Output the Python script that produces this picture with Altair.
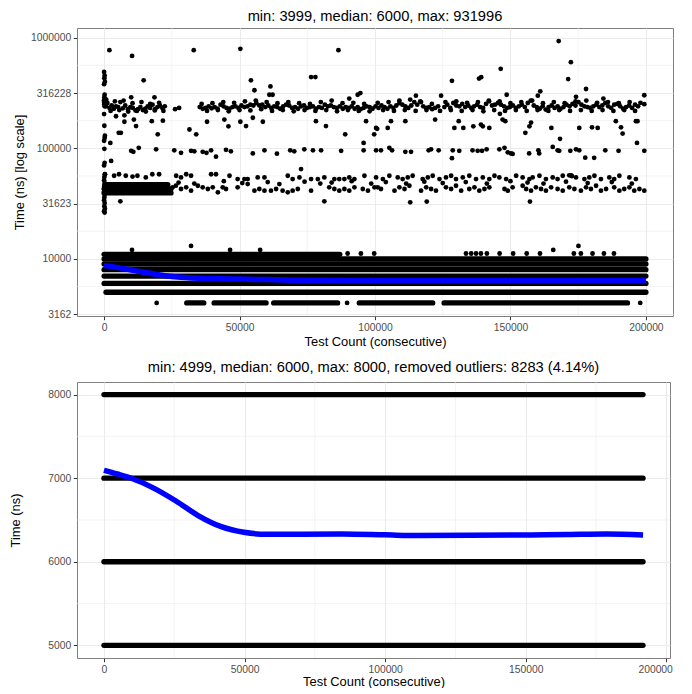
import altair as alt
import pandas as pd

FONT = "Liberation Sans"

top_title = "min: 3999, median: 6000, max: 931996"
bottom_title = "min: 4999, median: 6000, max: 8000, removed outliers: 8283 (4.14%)"
x_title = "Test Count (consecutive)"
top_y_title = "Time (ns) [log scale]"
bottom_y_title = "Time (ns)"

x_ticks = [0, 50000, 100000, 150000, 200000]
x_minor = [25000, 75000, 125000, 175000]
top_y_ticks = [3162, 10000, 31623, 100000, 316228, 1000000]
top_y_minor = [5623, 17783, 56234, 177828, 562341]
bottom_y_ticks = [5000, 6000, 7000, 8000]
bottom_y_minor = [5500, 6500, 7500]

# ---------- top panel: runs of overlapping points (time, first count, last count)
top_run_time = [4000, 4000, 4000, 4000, 4000, 5000, 6000, 7000, 8000, 9000, 10000, 11000,
                39500, 43000, 47000]
top_run_start = [30500, 40600, 62600, 94200, 125500, 700, 0, 0, 0, 0, 0, 0,
                 0, 0, 300]
top_run_end = [36800, 59800, 86200, 121300, 193200, 200000, 200000, 200000, 200000, 200000, 200000, 87000,
               24700, 24700, 23500]

# isolated points near the dense bands
dots_count = [19400, 89700, 197900, 10300, 32100, 46500, 57600, 165800, 175100,
              89900, 94800, 99700, 133600, 135500, 137300, 139100, 141300, 146000, 151000,
              156000, 160900, 173400, 176000, 180300, 184500, 188200]
dots_time = [4000, 4000, 4000, 12050, 13100, 12050, 12050, 12050, 13100,
             11200, 11200, 11200, 11200, 11200, 11200, 11200, 11200, 11200, 11200,
             11200, 11200, 11200, 11200, 11200, 11200, 11200]

# column of slow points right at the start
col_count = [0, 200, 100, 300, 0, 200, 100, 0, 300, 100, 200, 0, 100, 300, 200, 0, 100, 200, 0,
             300, 100, 0, 200, 100, 300, 0, 200, 100, 0, 200, 100, 300, 0, 200]
col_time = [490000, 455000, 430000, 400000, 380000, 305000, 290000, 272000, 262000, 250000,
            240000, 204000, 160000, 130000, 124000, 117000, 99000, 74000, 70000, 58000,
            55000, 51500, 48500, 45500, 43000, 40500, 38000, 36000, 34000, 32000, 30000,
            28500, 27000, 26300]

# cluster around 250000 ns
a_count = [0, 300, 700, 1200, 2000, 2800, 3600, 4400, 5200, 6000, 6900, 7800, 8800, 9700, 10600,
           11600, 12500, 13400, 14300, 15200, 16100, 17000, 17900, 18800, 19700, 20600, 21500,
           22400, 26200, 27700, 35300, 36400, 37500, 38600, 39700, 40800, 41900, 43000, 44100,
           45200, 46300, 47400, 48500, 49600, 50700, 51800, 52900, 54000, 55100, 56200, 57300,
           58400, 59500, 60600, 61700, 62800, 63900, 65000, 66100, 67200, 68300, 69400, 70500,
           71600, 72700, 73800, 74900, 76000, 77100, 78200, 79300, 80400, 81500, 82600, 83700,
           84800, 85900, 87000, 88100, 89200, 90300, 91400, 92500, 93600, 94700, 95800, 96900,
           98000, 99100,
           100200, 101300, 102400, 103500, 104600, 105700, 106800, 107900, 109000, 110100,
           111200, 112300, 113400, 114500, 115600, 116700, 117800, 118900, 120000, 121100,
           122200, 123300, 125600, 126700, 127800, 128900, 130000, 131100, 132200, 133300,
           134400, 135500, 136600, 137700, 138800, 139900, 141000, 142100, 143200, 144300,
           145400, 146500, 147600, 148700, 149800, 150900, 152000, 153100, 154200, 155300,
           156400, 157500, 158600, 159700, 160800, 161900, 163000, 164100, 165200, 166300,
           167400, 168500, 169600, 170700, 171800, 172900, 174000, 175100, 176200, 177300,
           178400, 179500, 180600, 181700, 182800, 183900, 185000, 186100, 187200, 188300,
           189400, 190500, 191600, 192700, 193800, 194900, 196000, 197100]
a_time = [262000, 248000, 240000, 257000, 232000, 245000, 228000, 240000, 236000, 262000,
          230000, 244000, 226000, 236000, 232000, 220000, 226000, 236000, 222000, 228000,
          240000, 232000, 248000, 226000, 236000, 244000, 232000, 240000, 226000, 232000,
          236000, 228000, 232000, 240000, 230000, 236000, 228000, 248000, 240000, 232000,
          228000, 236000, 240000, 232000, 244000, 236000, 240000, 248000, 244000, 257000,
          244000, 248000, 236000, 244000, 232000, 240000, 236000, 228000, 240000, 248000,
          244000, 232000, 236000, 228000, 240000, 244000, 232000, 236000, 240000, 228000,
          236000, 232000, 248000, 240000, 244000, 236000, 232000, 240000, 228000, 236000,
          232000, 240000, 228000, 236000, 226000, 232000, 240000, 236000, 228000,
          240000, 232000, 244000, 236000, 228000, 240000, 232000, 244000, 257000, 248000,
          240000, 232000, 244000, 262000, 248000, 266000, 240000, 232000, 236000, 226000,
          232000, 240000, 236000, 248000, 232000, 257000, 244000, 240000, 252000, 236000,
          244000, 232000, 240000, 248000, 236000, 232000, 252000, 266000, 244000, 248000,
          257000, 248000, 240000, 232000, 236000, 244000, 232000, 240000, 248000, 236000,
          257000, 270000, 244000, 236000, 228000, 240000, 224000, 236000, 244000, 232000,
          240000, 228000, 236000, 248000, 240000, 252000, 244000, 262000, 248000, 240000,
          236000, 232000, 240000, 248000, 236000, 244000, 257000, 240000, 232000, 248000,
          252000, 240000, 228000, 236000, 244000, 232000, 248000, 240000]

# second, looser row of the same cluster
a2_count = [800, 2400, 4000, 5600, 7200, 8900, 10500, 12100, 13800, 15400, 17000, 18700, 20300,
            21900, 36000, 38000, 40000, 42000, 44000, 46000, 48000, 50000, 52000, 54000, 56000,
            58000, 60000, 62000, 64000, 66000, 68000, 70000, 72000, 74000, 76000, 78000, 80000,
            82000, 84000, 86000, 88000, 90000, 92000, 94000, 96000, 98000, 101000, 103000,
            105000, 107000, 109000, 111000, 113000, 115000, 117000, 119000, 121000, 124000,
            126000, 128000, 130000, 132000, 134000, 136000, 138000, 140000, 142000, 144000,
            146000, 148000, 150000, 152000, 154000, 156000, 158000, 160000, 162000, 164000,
            166000, 168000, 170000, 172000, 174000, 176000, 178000, 180000, 182000, 184000,
            186000, 188000, 190000, 192000, 194000, 196000, 198000]
a2_time = [275000, 218000, 266000, 222000, 270000, 215000, 256000, 218000, 262000, 215000,
           252000, 220000, 258000, 218000, 252000, 218000, 256000, 222000, 262000, 216000,
           258000, 222000, 266000, 220000, 270000, 226000, 262000, 218000, 256000, 222000,
           262000, 216000, 256000, 222000, 252000, 218000, 262000, 222000, 270000, 216000,
           256000, 222000, 258000, 218000, 252000, 216000, 258000, 222000, 262000, 218000,
           270000, 222000, 276000, 218000, 262000, 222000, 252000, 218000, 262000, 222000,
           266000, 218000, 258000, 222000, 262000, 216000, 270000, 222000, 266000, 218000,
           256000, 222000, 262000, 218000, 270000, 222000, 256000, 218000, 262000, 222000,
           256000, 218000, 266000, 222000, 270000, 218000, 258000, 222000, 262000, 218000,
           256000, 222000, 262000, 218000, 258000]

# cluster around 50000 ns
c_count = [300, 3700, 5500, 8000, 10500, 12300, 15400, 17800, 20300,
           26600, 28400, 30300, 32100, 39500, 41300, 46300, 49300, 51800, 53000, 56700, 59200,
           67800, 69600, 72100, 76400, 78900, 81300, 85000, 86800, 88700, 90500, 92400, 96100,
           25300, 26500, 28400, 30300, 32100, 34600, 36400, 38300, 40100, 42000, 43800, 45000,
           49300, 53000, 55500, 57300, 59200, 61600, 63500, 65900, 67800, 69600, 71500, 76400,
           83100, 85000, 86800, 88700, 90500, 92400, 95500, 97400, 99800,
           100400, 102900, 105300, 108400, 110200, 112100, 113900, 117600, 119500, 121300,
           123800, 126200, 128100, 129900, 132400, 134800, 137300, 139800, 142200, 144100,
           145900, 148400, 152100, 154500, 157000, 158200, 160700, 163100, 165600, 167400,
           169300, 172400, 174200, 177300, 179100, 181000, 183400, 186500, 188300, 190200,
           193900, 196300,
           101000, 102200, 107200, 109000, 110900, 112700, 117000, 118900, 120700, 122500,
           126200, 128100, 129900, 131800, 134800, 136700, 138500, 140400, 142200, 147800,
           149000, 150800, 154500, 155800, 157600, 159400, 161300, 163100, 165000, 167400,
           169300, 171700, 173600, 176000, 177900, 179700, 181600, 183400, 185300, 188300,
           190200, 192000, 193900, 195700, 197600, 199400,
           27500, 33300, 44200, 51000, 60400, 64700, 74000, 79800, 84000, 91400, 98600,
           104000, 111500, 118200, 125000, 133500, 141300, 150000, 156300, 162200, 170500,
           178500, 187400, 194800]
c_time = [58300, 56500, 58300, 56500, 55500, 56500, 54600, 58300, 58300,
          56500, 54600, 58300, 56500, 58300, 58300, 56500, 52700, 52700, 52700, 54600, 54600,
          56500, 52700, 54600, 52700, 52700, 54600, 52700, 52700, 52700, 54600, 52700, 56500,
          44400, 46000, 42900, 44400, 41400, 45900, 44400, 42900, 44400, 40000, 44400, 42900,
          44400, 47500, 41400, 42900, 41400, 41400, 42900, 41400, 40000, 41400, 42900, 41400,
          44400, 42900, 41400, 42900, 41400, 44400, 42900, 41400, 44400,
          54600, 52700, 56500, 54600, 52700, 54600, 56500, 52700, 54600, 56500,
          52700, 54600, 56500, 52700, 54600, 56500, 52700, 54600, 52700, 56500,
          54600, 52700, 56500, 54600, 52700, 54600, 56500, 52700, 54600, 52700,
          56500, 57000, 54600, 52700, 54600, 56500, 52700, 54600, 52700, 56500,
          54600, 52700,
          44400, 42900, 41400, 44400, 42900, 45900, 41400, 44400, 42900, 41400,
          44400, 42900, 45900, 41400, 42900, 44400, 41400, 42900, 44400, 42900,
          41400, 44400, 45900, 42900, 41400, 44400, 42900, 41400, 44400, 42900,
          41400, 44400, 42900, 41400, 44400, 42900, 45900, 41400, 42900, 44400,
          41400, 42900, 44400, 41400, 42900, 41400,
          49000, 48000, 50500, 48500, 49500, 47500, 50000, 48000, 49000, 50500, 48000,
          49500, 48000, 50000, 48500, 49500, 48000, 50500, 49000, 48000, 50000,
          48500, 49500, 48000]

# scattered points (very slow outliers, ~100000 ns row, in-between values)
s_count = [1960, 10330, 33100, 50300, 86500, 167800, 172300, 171300, 146400, 128400, 138400,
           139200, 177900, 148600, 115100, 124400, 161000, 160100, 174200, 199400, 199400, 184300,
           14600, 54200, 55500, 61400, 61000, 62200, 78000, 76400, 90500, 93600, 94600,
           2300, 2600, 4400, 5400, 6200, 7500, 7500, 10000, 11000, 11800, 10000, 10800, 12800,
           18600, 17600, 19800, 19200, 21700, 25900, 28400, 31500, 34000, 32100, 33300, 36400,
           37800, 39500, 41300, 45000, 46800, 38000, 44400, 45900, 50300, 52400, 54900, 58600,
           54900, 59200, 63800, 68700, 70200, 73900, 77100, 80100, 72700, 78200, 81900, 89000,
           87500, 81300, 6000, 96700, 100800, 99700, 95800, 95800,
           100400, 104700, 105900, 111200, 122200, 129300, 130900, 132600, 136300, 139100,
           139800, 142200, 146100, 147100, 148100, 155500, 157000, 157600, 165100, 168300,
           175400, 180100, 182200, 188900, 190800, 191400, 196300, 196900, 196700,
           100400, 102200, 105300, 106300, 111200, 113300, 119800, 120700, 123500, 128700,
           131100, 128400, 136000, 137900, 139500, 141200, 145900, 147800, 149000, 150200,
           150800, 156900, 160300, 160600, 165600, 167400, 168000, 172100, 174200, 175400,
           177600, 180900, 185000, 189900, 199400,
           113000, 119100, 157200, 171700, 172700]
s_time = [771000, 685000, 771000, 793000, 771000, 931996, 601000, 423000, 524000, 408000, 427000,
          440000, 344000, 305000, 299000, 299000, 328000, 299000, 292000, 302000, 251000, 282000,
          412000, 412000, 335000, 363000, 305000, 305000, 441000, 441000, 282000, 305000, 316000,
          112000, 77000, 195000, 138000, 138000, 199000, 174000, 289000, 182000, 159000, 95000,
          93000, 101000, 289000, 176000, 134000, 98000, 178000, 96000, 91000, 148000, 134000,
          95000, 94000, 93000, 91000, 96000, 84000, 97000, 94000, 174000, 182000, 158000,
          174000, 159000, 189000, 174000, 90000, 96000, 89500, 96000, 94000, 98000, 96000,
          96000, 65000, 176000, 159000, 134000, 95000, 33200, 33200, 176000, 150000, 134000,
          112000, 96000,
          153000, 153000, 176000, 176000, 182000, 153000, 176000, 153000, 158000, 164000,
          158000, 153000, 205000, 182000, 176000, 138000, 158000, 171000, 153000, 122000,
          153000, 155000, 153000, 176000, 155000, 136000, 176000, 176000, 112000,
          96000, 96000, 101000, 96000, 93000, 93000, 96000, 98000, 96000, 96000,
          95000, 81500, 96000, 95000, 95000, 98000, 98000, 101000, 92000, 90000,
          89000, 90000, 96000, 90000, 103000, 96000, 95000, 95000, 98000, 96000,
          82400, 82000, 96000, 95000, 95000,
          32500, 33000, 33000, 57000, 56000]

# loess-like smooth of the full data
top_smooth_count = [0, 5000, 10000, 15000, 20000, 25000, 30000, 35000, 40000, 50000, 60000,
                    70000, 80000, 100000, 120000, 140000, 160000, 180000, 200000]
top_smooth_time = [8700, 8350, 7950, 7550, 7200, 6950, 6800, 6700, 6640, 6570, 6500,
                   6430, 6400, 6390, 6380, 6380, 6380, 6390, 6390]

# ---------- bottom panel
bottom_run_time = [5000, 6000, 7000, 8000]
bottom_run_start = [0, 0, 0, 0]
bottom_run_end = [191717, 191717, 191717, 191717]

bottom_smooth_count = [0, 4700, 9500, 17500, 25600, 33650, 41700, 49800, 57800, 70000, 84700,
                       100000, 111600, 130000, 151900, 165000, 178800, 191717]
bottom_smooth_time = [7093, 7050, 7002, 6884, 6727, 6550, 6420, 6352, 6329, 6330, 6333,
                      6322, 6313, 6316, 6321, 6327, 6333, 6321]

# ---------- build tables
top_runs = pd.DataFrame({"time": top_run_time, "count": top_run_start, "count_end": top_run_end})
top_points = pd.DataFrame({
    "count": dots_count + col_count + a_count + a2_count + c_count + s_count,
    "time": dots_time + col_time + a_time + a2_time + c_time + s_time,
})
top_smooth = pd.DataFrame({"count": top_smooth_count, "time": top_smooth_time})
bottom_runs = pd.DataFrame({"time": bottom_run_time, "count": bottom_run_start, "count_end": bottom_run_end})
bottom_smooth = pd.DataFrame({"count": bottom_smooth_count, "time": bottom_smooth_time})

GRID = "#EBEBEB"


def panel(runs, points, smooth, xdom, ydom, ylog, yticks, yminor, ytitle, ytitlepad, xtitlepad,
          title, toffset, w, h, flush):
    xs = alt.Scale(domain=xdom, nice=False, zero=False)
    if ylog:
        ys = alt.Scale(type="log", domain=ydom, nice=False)
    else:
        ys = alt.Scale(domain=ydom, nice=False, zero=False)
    xkw = dict(values=x_ticks, format="d", title=x_title, titlePadding=xtitlepad)
    if flush:
        xkw.update(labelFlush=6, labelFlushOffset=6)
    xax = alt.Axis(**xkw)
    yax = alt.Axis(values=yticks, format="d", title=ytitle, titlePadding=ytitlepad)

    gx = alt.Chart(pd.DataFrame({"g": x_minor})).mark_rule(color=GRID, strokeWidth=0.6).encode(
        x=alt.X("g:Q", scale=xs, axis=xax))
    gy = alt.Chart(pd.DataFrame({"g": yminor})).mark_rule(color=GRID, strokeWidth=0.6).encode(
        y=alt.Y("g:Q", scale=ys, axis=yax))
    layers = [gx, gy]
    layers.append(
        alt.Chart(runs).mark_rule(color="black", strokeWidth=5.3, strokeCap="round").encode(
            x=alt.X("count:Q", scale=xs, axis=xax), x2="count_end:Q",
            y=alt.Y("time:Q", scale=ys, axis=yax)))
    if points is not None:
        layers.append(
            alt.Chart(points).mark_circle(size=23, color="black", opacity=1).encode(
                x=alt.X("count:Q", scale=xs, axis=xax),
                y=alt.Y("time:Q", scale=ys, axis=yax)))
    layers.append(
        alt.Chart(smooth).mark_line(color="#0000FF", strokeWidth=5.5, interpolate="monotone").encode(
            x=alt.X("count:Q", scale=xs, axis=xax),
            y=alt.Y("time:Q", scale=ys, axis=yax)))
    return alt.layer(*layers).properties(
        width=w, height=h, title=alt.TitleParams(text=title, anchor="middle", offset=toffset))


top = panel(top_runs, top_points, top_smooth, [-10000, 210000], [3048, 1224600], True,
            top_y_ticks, top_y_minor, top_y_title, 3.7, 2.5, top_title, 3.7, 596, 288, False)
bottom = panel(bottom_runs, None, bottom_smooth, [-9586, 201303], [4849, 8150], False,
               bottom_y_ticks, bottom_y_minor, bottom_y_title, 25, 1, bottom_title, 7.5, 593, 276, True)

chart = alt.vconcat(top, bottom, spacing=10).properties(
    padding={"left": 1, "top": 0, "right": 0, "bottom": -1}
).configure_axis(
    labelFont=FONT, titleFont=FONT, labelFontSize=10.3, titleFontSize=12.9,
    labelColor="#4D4D4D", titleColor="black", titleFontWeight="normal",
    tickColor="#333333", tickSize=3.7, tickWidth=1, labelPadding=2.6, domain=False,
    gridColor=GRID, gridWidth=1.1,
).configure_view(stroke="#7F7F7F", strokeWidth=1).configure_title(
    font=FONT, fontSize=14.7, fontWeight="normal", color="black"
)

chart.save("out.html", embed_options={"renderer": "svg", "actions": False})
